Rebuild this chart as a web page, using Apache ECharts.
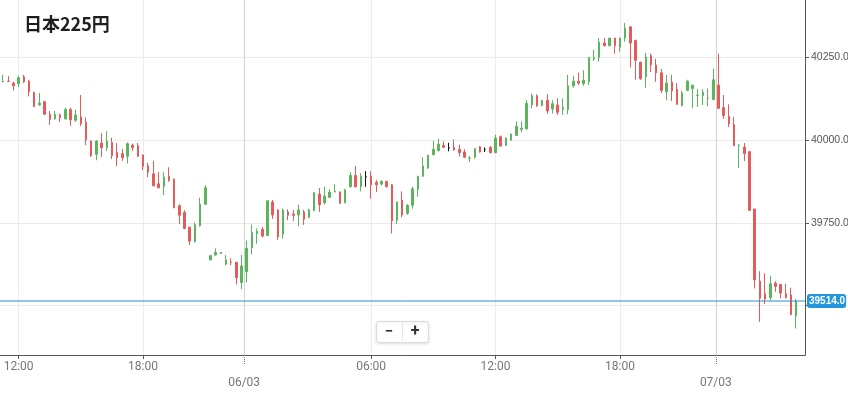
<!DOCTYPE html>
<html>
<head>
<meta charset="utf-8">
<script src="https://cdn.jsdelivr.net/npm/echarts@6/dist/echarts.min.js"></script>
<style>
  html, body { margin: 0; padding: 0; background: #fff; }
  #chart { width: 848px; height: 397px; }
</style>
</head>
<body>
<div id="chart"></div>
<script>
const chartTitle = '日本225円'

// 15分足 [open, close, low, high]
const candles = [
  [40176, 40178, 40174, 40197], [40178, 40177, 40176, 40193], [40172, 40164, 40150, 40176], [40170, 40188, 40160, 40194],
  [40191, 40176, 40172, 40197], [40178, 40146, 40132, 40182], [40144, 40101, 40100, 40146], [40106, 40112, 40104, 40142],
  [40116, 40078, 40076, 40118], [40078, 40062, 40046, 40088], [40064, 40078, 40062, 40088], [40076, 40068, 40054, 40080],
  [40064, 40092, 40062, 40098], [40092, 40061, 40043, 40098], [40060, 40076, 40055, 40092], [40070, 40049, 40043, 40136],
  [40054, 40001, 39985, 40068], [39997, 39953, 39949, 39999], [39957, 39997, 39939, 39999], [39991, 39977, 39949, 40021],
  [39977, 39997, 39967, 40027], [39993, 39953, 39943, 40007], [39963, 39947, 39921, 39991], [39959, 39947, 39937, 39973],
  [39951, 39989, 39929, 39993], [39985, 39977, 39967, 39989], [39983, 39951, 39949, 39991], [39955, 39921, 39909, 39957],
  [39922, 39903, 39888, 39931], [39898, 39862, 39860, 39937], [39868, 39856, 39854, 39904], [39860, 39888, 39834, 39903],
  [39890, 39878, 39874, 39918], [39882, 39796, 39794, 39884], [39802, 39773, 39747, 39806], [39782, 39733, 39731, 39788],
  [39737, 39695, 39683, 39739], [39693, 39745, 39691, 39751], [39741, 39806, 39739, 39826], [39806, 39856, 39804, 39864],
  [39638, 39651, 39638, 39653], [39653, 39661, 39651, 39673], [39659, 39659, 39659, 39659], [39625, 39638, 39622, 39653],
  [39632, 39631, 39622, 39643], [39631, 39584, 39564, 39632], [39570, 39620, 39550, 39653], [39602, 39673, 39570, 39697],
  [39675, 39721, 39655, 39745], [39717, 39725, 39687, 39733], [39730, 39710, 39706, 39738], [39712, 39817, 39710, 39817],
  [39813, 39774, 39762, 39819], [39789, 39708, 39698, 39791], [39716, 39789, 39702, 39793], [39783, 39773, 39758, 39791],
  [39777, 39773, 39756, 39789], [39774, 39789, 39740, 39805], [39783, 39761, 39744, 39789], [39767, 39789, 39764, 39793],
  [39787, 39841, 39785, 39843], [39837, 39805, 39783, 39855], [39811, 39831, 39805, 39859], [39827, 39843, 39825, 39851],
  [39843, 39845, 39843, 39867], [39843, 39809, 39807, 39845], [39811, 39849, 39809, 39853], [39859, 39893, 39857, 39903],
  [39893, 39859, 39857, 39922], [39859, 39891, 39845, 39900], [39889, 39889, 39859, 39906], [39891, 39865, 39823, 39906],
  [39873, 39865, 39843, 39879], [39867, 39875, 39863, 39879], [39875, 39859, 39857, 39877], [39865, 39756, 39718, 39867],
  [39758, 39813, 39746, 39815], [39819, 39774, 39767, 39845], [39779, 39803, 39774, 39807], [39803, 39853, 39793, 39859],
  [39851, 39891, 39829, 39891], [39891, 39922, 39889, 39948], [39916, 39954, 39913, 39956], [39956, 39972, 39954, 39998],
  [39968, 39988, 39966, 40004], [39984, 39978, 39976, 39996], [39976, 39976, 39966, 39992], [39978, 39970, 39968, 40002],
  [39972, 39962, 39950, 39986], [39964, 39948, 39946, 39972], [39945, 39946, 39934, 39952], [39948, 39974, 39944, 39976],
  [39980, 39964, 39962, 39982], [39972, 39972, 39964, 39978], [39978, 39962, 39960, 39982], [39962, 40006, 39960, 40016],
  [40010, 39982, 39980, 40014], [39984, 40006, 39982, 40008], [40000, 40018, 39998, 40020], [40014, 40042, 40012, 40057],
  [40032, 40036, 40024, 40057], [40034, 40111, 40032, 40121], [40106, 40134, 40096, 40140], [40134, 40104, 40100, 40138],
  [40104, 40120, 40102, 40122], [40120, 40088, 40080, 40138], [40094, 40110, 40080, 40120], [40106, 40084, 40076, 40126],
  [40092, 40098, 40076, 40126], [40092, 40164, 40078, 40197], [40164, 40178, 40158, 40194], [40178, 40172, 40166, 40203],
  [40170, 40181, 40164, 40211], [40176, 40249, 40166, 40251], [40245, 40249, 40239, 40273], [40249, 40295, 40237, 40308],
  [40293, 40285, 40283, 40308], [40285, 40308, 40283, 40308], [40308, 40285, 40261, 40309], [40281, 40308, 40267, 40309],
  [40308, 40338, 40297, 40354], [40342, 40293, 40219, 40344], [40301, 40241, 40182, 40303], [40235, 40185, 40182, 40237],
  [40191, 40251, 40158, 40263], [40255, 40227, 40205, 40261], [40227, 40203, 40176, 40245], [40203, 40150, 40142, 40215],
  [40146, 40172, 40120, 40197], [40175, 40148, 40118, 40197], [40154, 40108, 40106, 40172], [40104, 40142, 40102, 40148],
  [40150, 40178, 40148, 40182], [40156, 40166, 40096, 40166], [40135, 40136, 40100, 40154], [40134, 40144, 40106, 40154],
  [40127, 40128, 40102, 40156], [40122, 40182, 40122, 40215], [40166, 40096, 40094, 40261], [40098, 40074, 40064, 40136],
  [40072, 40049, 40039, 40108], [40046, 39983, 39983, 40070], [39984, 39985, 39916, 39987], [39979, 39959, 39937, 39991],
  [39965, 39788, 39786, 39967], [39792, 39578, 39552, 39792], [39574, 39522, 39451, 39604], [39536, 39520, 39505, 39598],
  [39524, 39566, 39516, 39590], [39568, 39558, 39542, 39574], [39564, 39538, 39522, 39566], [39536, 39524, 39522, 39566],
  [39532, 39473, 39471, 39554], [39469, 39514, 39431, 39520]
]
const lastPrice = 39514

// 時刻目盛 (足の番号)
const hourTicks = [3, 27, 71, 95, 119]
const hourLabels = ['12:00', '18:00', '06:00', '12:00', '18:00']
const dayTicks = [46.5, 137.5]
const dayLabels = ['06/03', '07/03']
const priceTicks = [39500, 39750, 40000, 40250]
const priceLabels = [39750, 40000, 40250]

const upColor = '#5cb55c'
const downColor = '#e35b5b'
const lastColor = '#2a8fcc'
const xMin = -0.6
const xMax = 154.7

const chart = echarts.init(document.getElementById('chart'))

chart.setOption({
  animation: false,
  backgroundColor: '#fff',
  title: {
    text: chartTitle,
    left: 19,
    top: 10,
    textStyle: {
      fontFamily: 'Noto Sans CJK JP',
      fontSize: 18,
      fontWeight: 'bold',
      color: '#1e1e1e'
    }
  },
  grid: {
    left: 0,
    right: 43,
    top: 0,
    bottom: 42,
    containLabel: false,
    outerBoundsMode: 'none'
  },
  xAxis: [{
    type: 'value',
    position: 'bottom',
    min: xMin,
    max: xMax,
    axisLine: { show: true, onZero: false, lineStyle: { color: '#555' } },
    axisTick: { show: true, customValues: hourTicks, length: 4, lineStyle: { color: '#555' } },
    axisLabel: {
      customValues: hourTicks,
      margin: 6,
      color: '#777',
      fontSize: 12,
      fontFamily: 'Liberation Sans Narrow, Roboto, sans-serif',
      formatter: function (v) {
        return hourLabels[hourTicks.indexOf(v)]
      }
    },
    splitLine: { show: true, lineStyle: { color: '#ececec' } }
  }, {
    type: 'value',
    position: 'bottom',
    min: xMin,
    max: xMax,
    axisLine: { show: false, onZero: false },
    axisTick: { show: true, customValues: dayTicks, length: 9, lineStyle: { color: '#777', type: 'dotted' } },
    axisLabel: {
      customValues: dayTicks,
      margin: 22,
      color: '#777',
      fontSize: 12,
      fontFamily: 'Liberation Sans Narrow, Roboto, sans-serif',
      formatter: function (v) {
        return dayLabels[dayTicks.indexOf(v)]
      }
    },
    splitLine: { show: true, lineStyle: { color: '#d2d2d2' } }
  }],
  yAxis: {
    type: 'value',
    position: 'right',
    min: 39351,
    max: 40423,
    axisLine: { show: true, onZero: false, lineStyle: { color: '#555' } },
    axisTick: { show: true, customValues: priceTicks, length: 4, lineStyle: { color: '#555' } },
    axisLabel: {
      customValues: priceLabels,
      margin: 6,
      color: '#555',
      fontSize: 10.5,
      fontFamily: 'Liberation Sans, Arial, sans-serif',
      formatter: function (v) {
        return v.toFixed(1)
      }
    },
    splitLine: { show: true, lineStyle: { color: '#ebebeb' } }
  },
  series: [{
    type: 'candlestick',
    xAxisIndex: 0,
    barWidth: 2,
    data: candles.map(function (d, i) {
      return [i, d[0], d[1], d[2], d[3]]
    }),
    itemStyle: {
      color: upColor,
      color0: downColor,
      borderColor: upColor,
      borderColor0: downColor,
      borderColorDoji: '#111',
      borderWidth: 1
    }
  }, {
    // 現在値ライン
    type: 'line',
    xAxisIndex: 0,
    data: [[xMin, lastPrice], [xMax, lastPrice]],
    showSymbol: false,
    symbol: 'none',
    silent: true,
    z: 5,
    lineStyle: { color: lastColor, width: 1 },
    endLabel: {
      show: true,
      distance: 2,
      color: '#fff',
      backgroundColor: '#2196dc',
      borderRadius: 3,
      padding: [2, 1, 2, 2],
      fontSize: 10,
      fontWeight: 'bold',
      fontFamily: 'Liberation Sans, Arial, sans-serif',
      formatter: function () {
        return lastPrice.toFixed(1)
      }
    }
  }],
  graphic: [{
    type: 'rect',
    left: 376,
    top: 321,
    shape: { width: 52, height: 21, r: 2 },
    style: { fill: '#fff', stroke: '#dedede', shadowBlur: 3, shadowColor: 'rgba(0,0,0,0.12)', shadowOffsetY: 1 }
  }, {
    type: 'line',
    shape: { x1: 402.5, y1: 322, x2: 402.5, y2: 341 },
    style: { stroke: '#e6e6e6' }
  }, {
    type: 'text',
    x: 389,
    y: 332,
    style: { text: '−', align: 'center', verticalAlign: 'middle', font: 'bold 15px Roboto, sans-serif', fill: '#333' }
  }, {
    type: 'text',
    x: 415,
    y: 332,
    style: { text: '+', align: 'center', verticalAlign: 'middle', font: 'bold 16px Roboto, sans-serif', fill: '#333' }
  }]
})
</script>
</body>
</html>
